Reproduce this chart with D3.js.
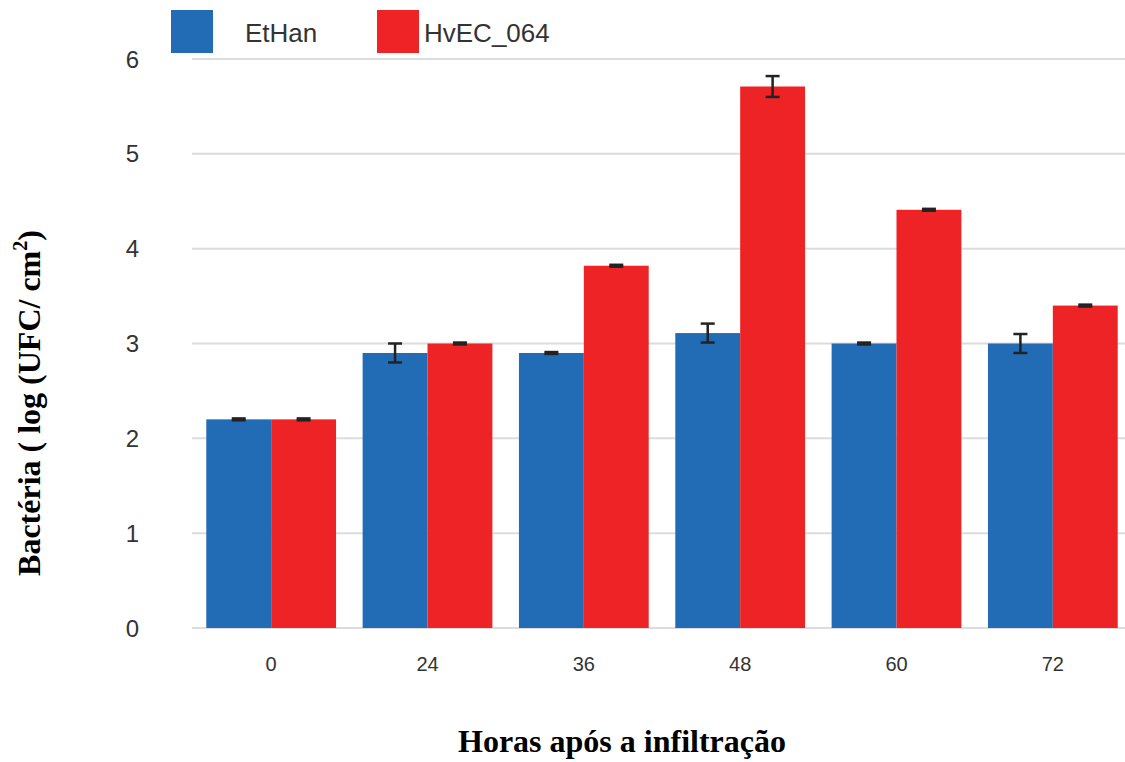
<!DOCTYPE html>
<html>
<head>
<meta charset="utf-8">
<script src="https://cdn.jsdelivr.net/npm/d3@7"></script>
<style>
  html, body { margin: 0; padding: 0; background: #fff; }
  svg { display: block; }
</style>
</head>
<body>
<svg id="chart" width="1125" height="762"></svg>
<script>
// ---- data ----
const categories = ["0", "24", "36", "48", "60", "72"];
const seriesNames = ["EtHan", "HvEC_064"];
const ethanValues = [2.2, 2.9, 2.9, 3.11, 3.0, 3.0];
const ethanErrors = [0.01, 0.1, 0.01, 0.1, 0.01, 0.1];
const hvecValues = [2.2, 3.0, 3.82, 5.71, 4.41, 3.4];
const hvecErrors = [0.01, 0.01, 0.01, 0.11, 0.01, 0.01];
const yTicks = [0, 1, 2, 3, 4, 5, 6];
const seriesColors = ["#226cb5", "#ee2325"];

const svg = d3.select("#chart");

const x = d3.scaleBand().domain(categories).range([193, 1131])
  .paddingInner(0.17).paddingOuter(0.085);
const xs = d3.scaleBand().domain(seriesNames).range([0, x.bandwidth()]).padding(0);
const y = d3.scaleLinear().domain([0, 6]).range([628, 59]);

// gridlines
svg.append("g").selectAll("line").data(yTicks).join("line")
  .attr("x1", 192).attr("x2", 1125)
  .attr("y1", d => y(d)).attr("y2", d => y(d))
  .attr("stroke", "#dcdcdc").attr("stroke-width", 2);

// y tick labels
svg.append("g").selectAll("text").data(yTicks).join("text")
  .attr("x", 139).attr("y", d => y(d)).attr("dy", "0.36em")
  .attr("text-anchor", "end")
  .attr("font-family", "Liberation Sans, Arial, sans-serif")
  .attr("font-size", 24).attr("fill", "#333")
  .text(d => d);

// x tick labels
svg.append("g").selectAll("text").data(categories).join("text")
  .attr("x", d => x(d) + x.bandwidth() / 2).attr("y", 671)
  .attr("text-anchor", "middle")
  .attr("font-family", "Liberation Sans, Arial, sans-serif")
  .attr("font-size", 20).attr("fill", "#333")
  .text(d => d);

// bars
const rows = categories.map((c, i) => ({
  cat: c,
  vals: [
    { s: seriesNames[0], v: ethanValues[i], e: ethanErrors[i], c: seriesColors[0] },
    { s: seriesNames[1], v: hvecValues[i], e: hvecErrors[i], c: seriesColors[1] }
  ]
}));

const groups = svg.append("g").selectAll("g").data(rows).join("g")
  .attr("transform", d => `translate(${x(d.cat)},0)`);

groups.selectAll("rect").data(d => d.vals).join("rect")
  .attr("x", d => xs(d.s)).attr("width", xs.bandwidth())
  .attr("y", d => y(d.v)).attr("height", d => y(0) - y(d.v))
  .attr("fill", d => d.c);

// error bars
const eb = groups.selectAll("g.err").data(d => d.vals).join("g").attr("class", "err");
const capW = 7;
eb.append("line")
  .attr("x1", d => xs(d.s) + xs.bandwidth() / 2).attr("x2", d => xs(d.s) + xs.bandwidth() / 2)
  .attr("y1", d => y(d.v + d.e)).attr("y2", d => y(d.v - d.e))
  .attr("stroke", "#222").attr("stroke-width", 2.5);
eb.append("line")
  .attr("x1", d => xs(d.s) + xs.bandwidth() / 2 - capW).attr("x2", d => xs(d.s) + xs.bandwidth() / 2 + capW)
  .attr("y1", d => y(d.v + d.e)).attr("y2", d => y(d.v + d.e))
  .attr("stroke", "#222").attr("stroke-width", 2.5);
eb.append("line")
  .attr("x1", d => xs(d.s) + xs.bandwidth() / 2 - capW).attr("x2", d => xs(d.s) + xs.bandwidth() / 2 + capW)
  .attr("y1", d => y(d.v - d.e)).attr("y2", d => y(d.v - d.e))
  .attr("stroke", "#222").attr("stroke-width", 2.5);

// legend
const legendX = [171, 377];
const leg = svg.append("g").selectAll("g").data(seriesNames).join("g")
  .attr("transform", (d, i) => `translate(${legendX[i]},10)`);
leg.append("rect").attr("width", 42).attr("height", 43)
  .attr("fill", (d, i) => seriesColors[i]);
leg.append("text")
  .attr("x", (d, i) => i === 0 ? 74 : 47).attr("y", 32)
  .attr("font-family", "Liberation Sans, Arial, sans-serif")
  .attr("font-size", 26).attr("fill", "#333")
  .text(d => d);

// axis titles
svg.append("text")
  .attr("x", 622).attr("y", 752).attr("text-anchor", "middle")
  .attr("font-family", "Liberation Serif, Times New Roman, serif")
  .attr("font-weight", "bold").attr("font-size", 32).attr("fill", "#000")
  .text("Horas após a infiltração");

const yt = svg.append("text")
  .attr("transform", "translate(40,403) rotate(-90)")
  .attr("text-anchor", "middle")
  .attr("font-family", "Liberation Serif, Times New Roman, serif")
  .attr("font-weight", "bold").attr("font-size", 32).attr("fill", "#000");
yt.append("tspan").text("Bactéria ( log (UFC/ cm");
yt.append("tspan").attr("font-size", 20).attr("dy", -13).text("2");
yt.append("tspan").attr("dy", 13).text(")");
</script>
</body>
</html>
